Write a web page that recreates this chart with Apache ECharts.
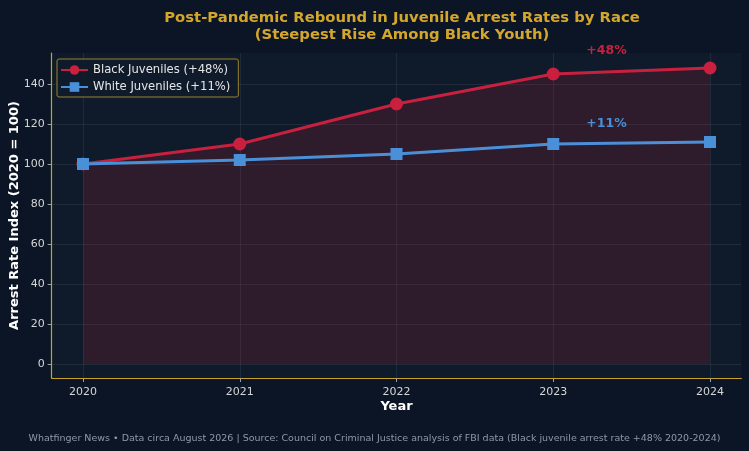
<!DOCTYPE html>
<html><head><meta charset="utf-8">
<script src="https://cdn.jsdelivr.net/npm/echarts@6/dist/echarts.min.js"></script>
<style>html,body{margin:0;padding:0;background:#0b1526;}#c{width:749px;height:451px;}</style>
</head><body><div id="c"></div>
<script>
const years = [2020, 2021, 2022, 2023, 2024];
const blackValues = [100, 110, 130, 145, 148];
const whiteValues = [100, 102, 105, 110, 111];
const yTicks = [0, 20, 40, 60, 80, 100, 120, 140];
const blackName = 'Black Juveniles (+48%)';
const whiteName = 'White Juveniles (+11%)';
const annotations = [
  { text: '+48%', x: 2023.34, y: 156.5, color: '#c8203e' },
  { text: '+11%', x: 2023.34, y: 120, color: '#4a90d9' }
];
const RED = '#c8203e', BLUE = '#4a90d9', GOLD = '#c9a227';
const FONT = 'DejaVu Sans';

const chart = echarts.init(document.getElementById('c'), null, { renderer: 'canvas' });
chart.setOption({
  backgroundColor: '#0b1526',
  animation: false,
  textStyle: { fontFamily: FONT },
  title: {
    text: 'Post-Pandemic Rebound in Juvenile Arrest Rates by Race\n(Steepest Rise Among Black Youth)',
    left: 397, top: 5, textAlign: 'center',
    textStyle: { color: '#d4a72c', fontSize: 14.8, fontWeight: 'bold', lineHeight: 17, fontFamily: FONT }
  },
  legend: {
    left: 57, top: 59, orient: 'vertical', itemGap: 5,
    padding: [5, 8, 4, 3],
    backgroundColor: 'rgba(16,27,43,0.9)',
    borderColor: '#9c822c', borderWidth: 1, borderRadius: 2,
    itemWidth: 27, itemHeight: 12,
    textStyle: { color: '#e6e6e6', fontSize: 11.6, fontFamily: FONT },
    data: [blackName, whiteName]
  },
  grid: [
    { left: 51.65, right: 7.65, top: 53, bottom: 73, show: true, backgroundColor: '#0f1b2a', borderWidth: 0, z: -1, outerBoundsMode: 'none', containLabel: false },
    { left: 83, right: 39, top: 53, bottom: 73, outerBoundsMode: 'none', containLabel: false },
    { left: 51.65, right: 7.65, top: 84, bottom: 87, outerBoundsMode: 'none', containLabel: false }
  ],
  xAxis: [
    { gridIndex: 0, type: 'value', min: 0, max: 1, position: 'bottom',
      axisLine: { show: true, lineStyle: { color: GOLD, width: 1.2 } },
      axisTick: { show: false }, axisLabel: { show: false }, splitLine: { show: false },
      name: 'Year', nameLocation: 'middle', nameGap: 22,
      nameTextStyle: { color: '#ffffff', fontWeight: 'bold', fontSize: 13, fontFamily: FONT } },
    { gridIndex: 1, type: 'value', min: years[0], max: years[years.length - 1], interval: 1,
      axisLine: { show: false },
      axisTick: { show: true, length: 4, lineStyle: { color: '#9aa3ad' } },
      axisLabel: { color: '#d6d6d6', fontSize: 11, margin: 9, formatter: v => String(v) },
      splitLine: { show: true, lineStyle: { color: 'rgba(255,255,255,0.07)', width: 1 } } },
    { gridIndex: 2, type: 'value', min: 2019.8, max: 2024.2, show: false }
  ],
  yAxis: [
    { gridIndex: 0, type: 'value', min: 0, max: 1,
      axisLine: { show: true, lineStyle: { color: GOLD, width: 1.2 } },
      axisTick: { show: false }, axisLabel: { show: false }, splitLine: { show: false },
      name: 'Arrest Rate Index (2020 = 100)', nameLocation: 'middle', nameGap: 31,
      nameTextStyle: { color: '#ffffff', fontWeight: 'bold', fontSize: 13, fontFamily: FONT } },
    { gridIndex: 1, type: 'value', min: 0, max: 1, show: false },
    { gridIndex: 2, type: 'value', min: yTicks[0], max: yTicks[yTicks.length - 1], interval: 20,
      axisLine: { show: false },
      axisTick: { show: true, length: 4, lineStyle: { color: '#9aa3ad' } },
      axisLabel: { color: '#d6d6d6', fontSize: 11, margin: 7 },
      splitLine: { show: true, lineStyle: { color: 'rgba(255,255,255,0.07)', width: 1 } } }
  ],
  series: [
    { name: blackName, type: 'line', xAxisIndex: 2, yAxisIndex: 2, clip: false,
      data: years.map((y, i) => [y, blackValues[i]]),
      symbol: 'circle', symbolSize: 13,
      lineStyle: { color: RED, width: 3 }, itemStyle: { color: RED },
      areaStyle: { color: 'rgba(200,32,62,0.24)', origin: 0 }, z: 3 },
    { name: whiteName, type: 'line', xAxisIndex: 2, yAxisIndex: 2, clip: false,
      data: years.map((y, i) => [y, whiteValues[i]]),
      symbol: 'rect', symbolSize: 12,
      lineStyle: { color: BLUE, width: 3 }, itemStyle: { color: BLUE }, z: 4 },
    { type: 'scatter', xAxisIndex: 2, yAxisIndex: 2, clip: false, symbolSize: 0, silent: true, z: 10,
      data: annotations.map(a => ({ value: [a.x, a.y],
        itemStyle: { color: a.color, opacity: 1 },
        label: { show: true, position: 'inside', formatter: a.text,
          color: a.color, textBorderWidth: 0,
          fontWeight: 'bold', fontSize: 12.5, fontFamily: FONT } })) }
  ],
  graphic: [
    { type: 'text', left: 'center', top: 434,
      style: { text: 'Whatfinger News • Data circa August 2026 | Source: Council on Criminal Justice analysis of FBI data (Black juvenile arrest rate +48% 2020-2024)',
        fill: '#8f98a6', fontSize: 9.5, fontFamily: FONT } }
  ]
});
</script></body></html>
